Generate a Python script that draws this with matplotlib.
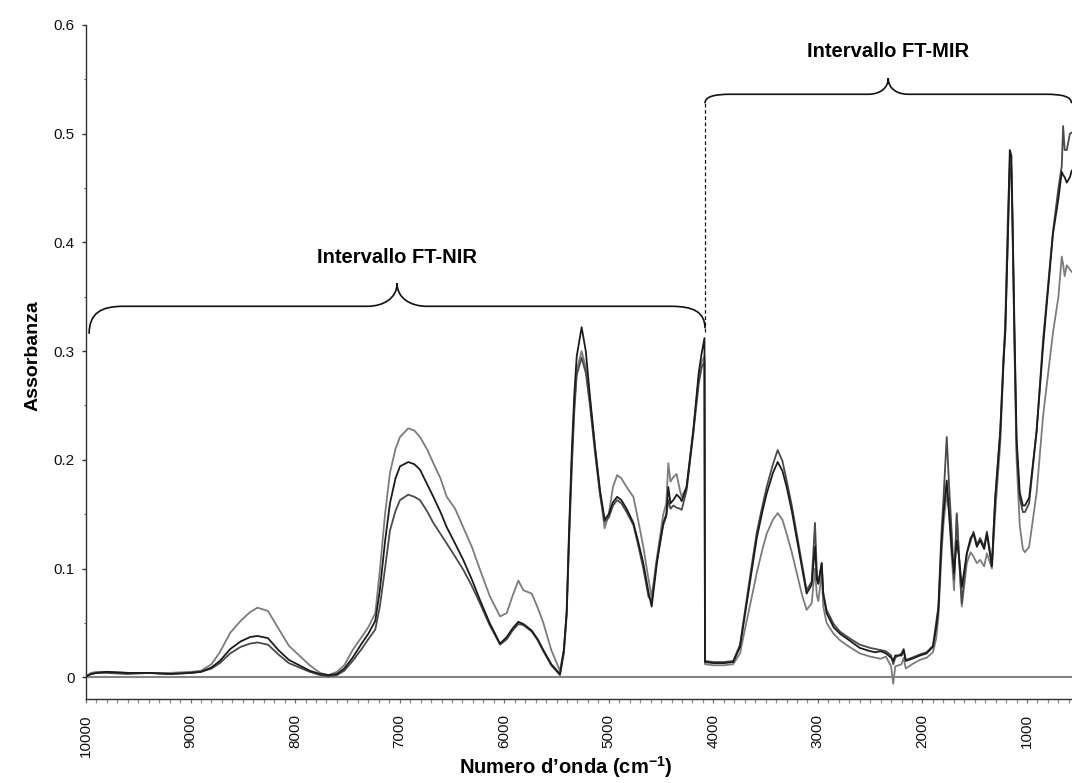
import numpy as np
import matplotlib
matplotlib.use("Agg")
import matplotlib.pyplot as plt
from matplotlib.path import Path
from matplotlib.patches import PathPatch
from matplotlib.ticker import FixedLocator, MultipleLocator, FuncFormatter

plt.rcParams['font.family'] = ['Liberation Sans', 'DejaVu Sans']
plt.rcParams['mathtext.fontset'] = 'custom'
plt.rcParams['mathtext.default'] = 'bf'
plt.rcParams['mathtext.bf'] = 'Liberation Sans:bold'
plt.rcParams['mathtext.rm'] = 'Liberation Sans:bold'

# ---------------- data (wavenumber cm-1, absorbance) ----------------
wavenumber = [
    10000, 9950, 9900, 9800, 9600, 9400, 9200, 9000, 8900, 8800, 8720, 8620, 8520, 8430, 8360,
    8260, 8160, 8060, 7960, 7860, 7760, 7680, 7600, 7530, 7450, 7364, 7300, 7233, 7190, 7140,
    7093, 7040, 6997, 6918, 6860, 6806, 6740, 6678, 6610, 6550, 6470, 6392, 6310, 6232, 6140,
    6040, 5976, 5920, 5865, 5817, 5737, 5680, 5626, 5550, 5467, 5430, 5403, 5380, 5355, 5330,
    5307, 5260, 5220, 5180, 5130, 5084, 5040, 5000, 4960, 4920, 4880, 4830, 4765, 4720, 4670,
    4620, 4590, 4540, 4479, 4450, 4431, 4410, 4383, 4351, 4320, 4303, 4256, 4192, 4140, 4112,
    4085,
    4080, 4000, 3900, 3810, 3745, 3681, 3630, 3585, 3530, 3490, 3430, 3385, 3340, 3299, 3250,
    3203, 3150, 3108, 3060, 3028, 3010, 2996, 2964, 2949, 2917, 2850, 2789, 2700, 2600, 2500,
    2450, 2400, 2350, 2300, 2280, 2260, 2200, 2180, 2160, 2100, 2024, 1960, 1900, 1870, 1848,
    1820, 1800, 1768, 1745, 1720, 1698, 1672, 1650, 1624, 1576, 1540, 1512, 1480, 1448, 1410,
    1384, 1336, 1305, 1256, 1225, 1208, 1185, 1165, 1150, 1140, 1120, 1100, 1070, 1040, 1020,
    980, 908, 847, 752, 700, 668, 655, 640, 620, 590, 573,
]

sample_grey = [
    0.001, 0.004, 0.005, 0.005, 0.004, 0.004, 0.004, 0.005, 0.006, 0.012, 0.023, 0.041, 0.052, 0.060, 0.064,
    0.061, 0.045, 0.029, 0.020, 0.011, 0.004, 0.002, 0.005, 0.011, 0.025, 0.037, 0.046, 0.059, 0.098, 0.150,
    0.188, 0.210, 0.221, 0.229, 0.227, 0.221, 0.210, 0.197, 0.183, 0.166, 0.155, 0.138, 0.120, 0.099, 0.075,
    0.056, 0.059, 0.075, 0.089, 0.080, 0.077, 0.064, 0.050, 0.025, 0.006, 0.025, 0.059, 0.130, 0.197, 0.250,
    0.282, 0.300, 0.285, 0.255, 0.210, 0.170, 0.137, 0.150, 0.175, 0.186, 0.183, 0.175, 0.166, 0.145, 0.120,
    0.090, 0.074, 0.110, 0.150, 0.160, 0.197, 0.180, 0.184, 0.187, 0.172, 0.166, 0.175, 0.227, 0.275, 0.290,
    0.295,
    0.012, 0.011, 0.011, 0.012, 0.022, 0.052, 0.075, 0.096, 0.118, 0.132, 0.145, 0.151, 0.145, 0.132, 0.115,
    0.096, 0.075, 0.062, 0.068, 0.100, 0.075, 0.070, 0.095, 0.065, 0.050, 0.040, 0.034, 0.028, 0.022, 0.019,
    0.018, 0.017, 0.019, 0.010, -0.006, 0.010, 0.012, 0.018, 0.008, 0.012, 0.016, 0.018, 0.023, 0.035, 0.055,
    0.110, 0.140, 0.170, 0.150, 0.110, 0.080, 0.151, 0.110, 0.065, 0.105, 0.115, 0.111, 0.105, 0.108, 0.102,
    0.114, 0.100, 0.150, 0.215, 0.290, 0.330, 0.420, 0.475, 0.470, 0.424, 0.300, 0.200, 0.140, 0.118, 0.115,
    0.120, 0.170, 0.240, 0.317, 0.350, 0.387, 0.380, 0.369, 0.379, 0.375, 0.373,
]

sample_black = [
    0.001, 0.003, 0.004, 0.005, 0.004, 0.004, 0.003, 0.004, 0.005, 0.009, 0.015, 0.026, 0.033, 0.037, 0.038,
    0.036, 0.025, 0.016, 0.011, 0.006, 0.003, 0.002, 0.003, 0.008, 0.018, 0.031, 0.040, 0.052, 0.080, 0.125,
    0.160, 0.183, 0.194, 0.198, 0.196, 0.191, 0.178, 0.166, 0.152, 0.138, 0.123, 0.108, 0.090, 0.071, 0.050,
    0.031, 0.037, 0.045, 0.051, 0.049, 0.043, 0.035, 0.025, 0.012, 0.003, 0.025, 0.060, 0.135, 0.205, 0.260,
    0.295, 0.322, 0.300, 0.258, 0.210, 0.172, 0.145, 0.150, 0.161, 0.166, 0.163, 0.155, 0.142, 0.125, 0.105,
    0.078, 0.065, 0.105, 0.142, 0.150, 0.175, 0.160, 0.163, 0.168, 0.165, 0.162, 0.175, 0.227, 0.280, 0.298,
    0.312,
    0.014, 0.013, 0.013, 0.014, 0.028, 0.068, 0.100, 0.128, 0.153, 0.169, 0.188, 0.198, 0.190, 0.175, 0.153,
    0.128, 0.100, 0.077, 0.085, 0.120, 0.090, 0.086, 0.105, 0.077, 0.059, 0.046, 0.040, 0.034, 0.027, 0.024,
    0.023, 0.024, 0.022, 0.018, 0.015, 0.020, 0.020, 0.025, 0.015, 0.017, 0.020, 0.022, 0.028, 0.045, 0.062,
    0.120, 0.150, 0.181, 0.150, 0.117, 0.096, 0.126, 0.110, 0.083, 0.114, 0.128, 0.132, 0.120, 0.126, 0.118,
    0.132, 0.102, 0.163, 0.225, 0.290, 0.317, 0.400, 0.485, 0.480, 0.430, 0.320, 0.220, 0.170, 0.158, 0.158,
    0.165, 0.227, 0.304, 0.408, 0.440, 0.465, 0.462, 0.460, 0.455, 0.460, 0.466,
]

sample_dark = [
    0.001, 0.003, 0.004, 0.004, 0.003, 0.004, 0.003, 0.004, 0.005, 0.008, 0.013, 0.022, 0.028, 0.031, 0.032,
    0.030, 0.021, 0.013, 0.009, 0.005, 0.002, 0.001, 0.002, 0.006, 0.015, 0.026, 0.035, 0.044, 0.065, 0.100,
    0.135, 0.153, 0.163, 0.168, 0.166, 0.163, 0.153, 0.142, 0.132, 0.123, 0.111, 0.099, 0.084, 0.068, 0.048,
    0.030, 0.035, 0.043, 0.049, 0.048, 0.042, 0.034, 0.024, 0.011, 0.002, 0.022, 0.057, 0.125, 0.190, 0.245,
    0.278, 0.294, 0.280, 0.250, 0.205, 0.168, 0.143, 0.147, 0.158, 0.163, 0.160, 0.152, 0.140, 0.122, 0.100,
    0.074, 0.070, 0.108, 0.140, 0.148, 0.163, 0.155, 0.158, 0.156, 0.155, 0.154, 0.172, 0.224, 0.270, 0.285,
    0.290,
    0.015, 0.014, 0.014, 0.015, 0.030, 0.072, 0.105, 0.133, 0.158, 0.175, 0.196, 0.209, 0.199, 0.181, 0.158,
    0.132, 0.103, 0.080, 0.088, 0.142, 0.095, 0.086, 0.105, 0.077, 0.062, 0.049, 0.042, 0.036, 0.030, 0.027,
    0.026, 0.025, 0.024, 0.020, 0.012, 0.018, 0.022, 0.026, 0.016, 0.018, 0.021, 0.023, 0.029, 0.050, 0.065,
    0.130, 0.163, 0.221, 0.175, 0.132, 0.090, 0.150, 0.110, 0.068, 0.114, 0.125, 0.134, 0.122, 0.128, 0.120,
    0.134, 0.104, 0.165, 0.228, 0.295, 0.320, 0.400, 0.468, 0.465, 0.420, 0.310, 0.210, 0.165, 0.152, 0.152,
    0.160, 0.227, 0.310, 0.410, 0.450, 0.470, 0.507, 0.485, 0.485, 0.500, 0.501,
]

series = [
    (sample_grey, '#7c7c7c'),
    (sample_dark, '#4a4a4a'),
    (sample_black, '#1c1c1c'),
]

y_ticks = [0, 0.1, 0.2, 0.3, 0.4, 0.5, 0.6]
x_ticks = [10000, 9000, 8000, 7000, 6000, 5000, 4000, 3000, 2000, 1000]

# ranges annotated by the braces: (start, end, label)
nir_range = (9970, 4080, 'Intervallo FT-NIR')
mir_range = (4080, 575, 'Intervallo FT-MIR')
range_split = 4080

# ---------------- figure ----------------
W, H = 1072, 783
fig = plt.figure(figsize=(W / 100, H / 100), dpi=100)
ax = fig.add_axes([86 / W, 1 - 699 / H, (W - 86) / W, (699 - 25) / H])

ax.set_xlim(10000, 570)
ax.set_ylim(-0.02, 0.6)

ax.axhline(0, color='#858585', lw=1.5, zorder=1)

for vals, col in series:
    ax.plot(wavenumber, vals, color=col, lw=1.3, zorder=3)

# axes styling
for s in ['top', 'right']:
    ax.spines[s].set_visible(False)
for s in ['left', 'bottom']:
    ax.spines[s].set_color('#303030')
    ax.spines[s].set_linewidth(1.0)

ax.yaxis.set_major_locator(FixedLocator(y_ticks))
ax.yaxis.set_minor_locator(MultipleLocator(0.05))
ax.yaxis.set_major_formatter(FuncFormatter(lambda v, p: '0' if abs(v) < 1e-9 else f'{v:.1f}'))
ax.xaxis.set_major_locator(FixedLocator(x_ticks))
ax.xaxis.set_minor_locator(MultipleLocator(100))
ax.set_xticklabels([str(t) for t in x_ticks], rotation=90)

ax.tick_params(axis='y', which='major', direction='out', length=3, width=1, color='#303030',
               labelsize=11, pad=5, labelcolor='#111111')
ax.tick_params(axis='y', which='minor', direction='out', length=1.5, width=0.8, color='#606060')
ax.tick_params(axis='x', which='major', direction='out', length=2.6, width=0.9, color='#707070',
               labelsize=11, pad=8.5, labelcolor='#111111')
ax.tick_params(axis='x', which='minor', direction='out', length=2.6, width=0.9, color='#909090')

# axis titles
fig.text(566 / W, 1 - 774 / H, 'Numero d\u2019onda (cm$^{-1}$)', ha='center', va='baseline',
         fontsize=14.5, fontweight='bold')
fig.text(33 / W, 1 - 356 / H, 'Assorbanza', rotation=90, ha='center', va='center',
         fontsize=14, fontweight='bold')


# ---------------- braces ----------------
def brace(x0, x1, y_end, rise_px, tip_px, r_end, r_tip, y_end_right=None):
    if y_end_right is None:
        y_end_right = y_end
    T = ax.transData
    (X0, Y0) = T.transform((x0, y_end))
    (X1, Y1) = T.transform((x1, y_end_right))
    Yh = max(Y0, Y1) + rise_px
    Xm = (X0 + X1) / 2
    Yt = Yh + tip_px
    verts = [
        (X0, Y0), (X0, Y0 + 0.75 * (Yh - Y0)), (X0 + 0.35 * r_end, Yh), (X0 + r_end, Yh),
        (Xm - r_tip, Yh),
        (Xm - 0.45 * r_tip, Yh), (Xm, Yh + 0.35 * tip_px), (Xm, Yt),
        (Xm, Yh + 0.35 * tip_px), (Xm + 0.45 * r_tip, Yh), (Xm + r_tip, Yh),
        (X1 - r_end, Yh),
        (X1 - 0.35 * r_end, Yh), (X1, Y1 + 0.75 * (Yh - Y1)), (X1, Y1),
    ]
    codes = [Path.MOVETO, Path.CURVE4, Path.CURVE4, Path.CURVE4,
             Path.LINETO,
             Path.CURVE4, Path.CURVE4, Path.CURVE4,
             Path.CURVE4, Path.CURVE4, Path.CURVE4,
             Path.LINETO,
             Path.CURVE4, Path.CURVE4, Path.CURVE4]
    patch = PathPatch(Path(verts, codes), transform=None, fill=False, lw=1.2,
                      edgecolor='#111111', clip_on=False, zorder=5)
    fig.add_artist(patch)
    return Xm, Yt


brace(nir_range[0], nir_range[1], 0.316, 22, 23, 34, 30, y_end_right=0.321)
brace(mir_range[0], mir_range[1], 0.528, 9, 16, 26, 20)

ax.text((nir_range[0] + nir_range[1]) / 2, 0.386, nir_range[2], ha='center', va='center',
        fontsize=14.5, fontweight='bold', zorder=6)
ax.text((mir_range[0] + mir_range[1]) / 2, 0.576, mir_range[2], ha='center', va='center',
        fontsize=14.5, fontweight='bold', zorder=6)

# dashed separator between the two ranges
ax.plot([range_split, range_split], [0.318, 0.528], color='#111111', lw=0.9,
        linestyle=(0, (3, 2)), zorder=4)

fig.savefig('out.png', dpi=100)
